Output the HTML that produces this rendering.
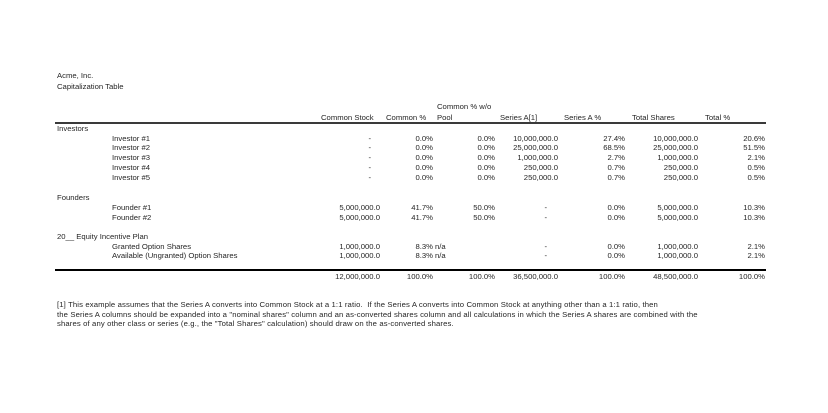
<!DOCTYPE html>
<html><head><meta charset="utf-8">
<style>
html,body{margin:0;padding:0;background:#fff;}
body{width:828px;height:413px;position:relative;overflow:hidden;font-family:"Liberation Sans",Arial,sans-serif;font-size:7.7px;color:#262626;}
.t{position:absolute;white-space:pre;line-height:10px;height:10px;}
.r{text-align:right;}
.f{letter-spacing:0.13px;}
.ln{position:absolute;left:55px;width:711px;}
</style></head><body>
<div class="t" style="left:57px;top:71px">Acme, Inc.</div>
<div class="t" style="left:57px;top:82px">Capitalization Table</div>

<div class="t" style="left:437px;top:102px">Common % w/o</div>
<div class="t" style="left:321px;top:113px">Common Stock</div>
<div class="t" style="left:386px;top:113px">Common %</div>
<div class="t" style="left:437px;top:113px">Pool</div>
<div class="t" style="left:500px;top:113px">Series A[1]</div>
<div class="t" style="left:564px;top:113px">Series A %</div>
<div class="t" style="left:632px;top:113px">Total Shares</div>
<div class="t" style="left:705px;top:113px">Total %</div>
<div class="ln" style="top:122px;height:2px;background:#3a3a3a"></div>

<div class="t" style="left:57px;top:124px">Investors</div>

<div class="t" style="left:112px;top:133.5px">Investor #1</div>
<div class="t r" style="right:457px;top:133.5px">-</div>
<div class="t r" style="right:395px;top:133.5px">0.0%</div>
<div class="t r" style="right:333px;top:133.5px">0.0%</div>
<div class="t r" style="right:270px;top:133.5px">10,000,000.0</div>
<div class="t r" style="right:203px;top:133.5px">27.4%</div>
<div class="t r" style="right:130px;top:133.5px">10,000,000.0</div>
<div class="t r" style="right:63px;top:133.5px">20.6%</div>

<div class="t" style="left:112px;top:143.2px">Investor #2</div>
<div class="t r" style="right:457px;top:143.2px">-</div>
<div class="t r" style="right:395px;top:143.2px">0.0%</div>
<div class="t r" style="right:333px;top:143.2px">0.0%</div>
<div class="t r" style="right:270px;top:143.2px">25,000,000.0</div>
<div class="t r" style="right:203px;top:143.2px">68.5%</div>
<div class="t r" style="right:130px;top:143.2px">25,000,000.0</div>
<div class="t r" style="right:63px;top:143.2px">51.5%</div>

<div class="t" style="left:112px;top:153px">Investor #3</div>
<div class="t r" style="right:457px;top:153px">-</div>
<div class="t r" style="right:395px;top:153px">0.0%</div>
<div class="t r" style="right:333px;top:153px">0.0%</div>
<div class="t r" style="right:270px;top:153px">1,000,000.0</div>
<div class="t r" style="right:203px;top:153px">2.7%</div>
<div class="t r" style="right:130px;top:153px">1,000,000.0</div>
<div class="t r" style="right:63px;top:153px">2.1%</div>

<div class="t" style="left:112px;top:162.7px">Investor #4</div>
<div class="t r" style="right:457px;top:162.7px">-</div>
<div class="t r" style="right:395px;top:162.7px">0.0%</div>
<div class="t r" style="right:333px;top:162.7px">0.0%</div>
<div class="t r" style="right:270px;top:162.7px">250,000.0</div>
<div class="t r" style="right:203px;top:162.7px">0.7%</div>
<div class="t r" style="right:130px;top:162.7px">250,000.0</div>
<div class="t r" style="right:63px;top:162.7px">0.5%</div>

<div class="t" style="left:112px;top:172.5px">Investor #5</div>
<div class="t r" style="right:457px;top:172.5px">-</div>
<div class="t r" style="right:395px;top:172.5px">0.0%</div>
<div class="t r" style="right:333px;top:172.5px">0.0%</div>
<div class="t r" style="right:270px;top:172.5px">250,000.0</div>
<div class="t r" style="right:203px;top:172.5px">0.7%</div>
<div class="t r" style="right:130px;top:172.5px">250,000.0</div>
<div class="t r" style="right:63px;top:172.5px">0.5%</div>

<div class="t" style="left:57px;top:193px">Founders</div>

<div class="t" style="left:112px;top:203px">Founder #1</div>
<div class="t r" style="right:448px;top:203px">5,000,000.0</div>
<div class="t r" style="right:395px;top:203px">41.7%</div>
<div class="t r" style="right:333px;top:203px">50.0%</div>
<div class="t r" style="right:281px;top:203px">-</div>
<div class="t r" style="right:203px;top:203px">0.0%</div>
<div class="t r" style="right:130px;top:203px">5,000,000.0</div>
<div class="t r" style="right:63px;top:203px">10.3%</div>

<div class="t" style="left:112px;top:212.7px">Founder #2</div>
<div class="t r" style="right:448px;top:212.7px">5,000,000.0</div>
<div class="t r" style="right:395px;top:212.7px">41.7%</div>
<div class="t r" style="right:333px;top:212.7px">50.0%</div>
<div class="t r" style="right:281px;top:212.7px">-</div>
<div class="t r" style="right:203px;top:212.7px">0.0%</div>
<div class="t r" style="right:130px;top:212.7px">5,000,000.0</div>
<div class="t r" style="right:63px;top:212.7px">10.3%</div>

<div class="t" style="left:57px;top:232px">20__ Equity Incentive Plan</div>

<div class="t" style="left:112px;top:241.5px">Granted Option Shares</div>
<div class="t r" style="right:448px;top:241.5px">1,000,000.0</div>
<div class="t r" style="right:395px;top:241.5px">8.3%</div>
<div class="t" style="left:435px;top:241.5px">n/a</div>
<div class="t r" style="right:281px;top:241.5px">-</div>
<div class="t r" style="right:203px;top:241.5px">0.0%</div>
<div class="t r" style="right:130px;top:241.5px">1,000,000.0</div>
<div class="t r" style="right:63px;top:241.5px">2.1%</div>

<div class="t" style="left:112px;top:251.2px">Available (Ungranted) Option Shares</div>
<div class="t r" style="right:448px;top:251.2px">1,000,000.0</div>
<div class="t r" style="right:395px;top:251.2px">8.3%</div>
<div class="t" style="left:435px;top:251.2px">n/a</div>
<div class="t r" style="right:281px;top:251.2px">-</div>
<div class="t r" style="right:203px;top:251.2px">0.0%</div>
<div class="t r" style="right:130px;top:251.2px">1,000,000.0</div>
<div class="t r" style="right:63px;top:251.2px">2.1%</div>

<div class="ln" style="top:268.5px;height:2px;background:#000"></div>

<div class="t r" style="right:448px;top:272px">12,000,000.0</div>
<div class="t r" style="right:395px;top:272px">100.0%</div>
<div class="t r" style="right:333px;top:272px">100.0%</div>
<div class="t r" style="right:270px;top:272px">36,500,000.0</div>
<div class="t r" style="right:203px;top:272px">100.0%</div>
<div class="t r" style="right:130px;top:272px">48,500,000.0</div>
<div class="t r" style="right:63px;top:272px">100.0%</div>

<div class="t f" style="left:57px;top:300px">[1] This example assumes that the Series A converts into Common Stock at a 1:1 ratio.  If the Series A converts into Common Stock at anything other than a 1:1 ratio, then</div>
<div class="t f" style="left:57px;top:309.5px">the Series A columns should be expanded into a "nominal shares" column and an as-converted shares column and all calculations in which the Series A shares are combined with the</div>
<div class="t f" style="left:57px;top:319px">shares of any other class or series (e.g., the "Total Shares" calculation) should draw on the as-converted shares.</div>
</body></html>
